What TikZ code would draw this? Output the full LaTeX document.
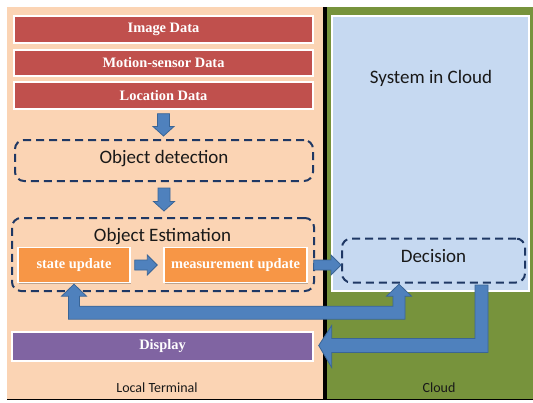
\documentclass[tikz,border=0pt]{standalone}
\usepackage{fontspec}
\setmainfont{Carlito}
\newfontfamily\boxfont{Liberation Serif}
\usetikzlibrary{calc,shadows}

\definecolor{cpeach}{HTML}{FBD4B4}
\definecolor{cgreen}{HTML}{77933C}
\definecolor{csky}{HTML}{C6D9F1}
\definecolor{cred}{HTML}{C0504D}
\definecolor{corange}{HTML}{F79646}
\definecolor{cpurple}{HTML}{8064A2}
\definecolor{cblue}{HTML}{4F81BD}
\definecolor{cblueline}{HTML}{3A6596}
\definecolor{cnavy}{HTML}{1F3864}

% straight block arrow pointing down, from anchor #1 to anchor #2 (#3, #4: gaps)
\newcommand\BlkDown[4]{%
  \path[blockarrow] let \p1=(#1), \p2=(#2) in
    (\x1-6pt,\y1-#3) -- (\x1+6pt,\y1-#3) -- (\x1+6pt,\y2+#4+9.5pt)
    -- (\x1+10.5pt,\y2+#4+9.5pt) -- (\x1,\y2+#4) -- (\x1-10.5pt,\y2+#4+9.5pt)
    -- (\x1-6pt,\y2+#4+9.5pt) -- cycle;}
% straight block arrow pointing right, from anchor #1 to anchor #2 (#3, #4: gaps)
\newcommand\BlkRight[4]{%
  \path[blockarrow] let \p1=(#1), \p2=(#2) in
    (\x1+#3,\y1+5pt) -- (\x2-#4-10pt,\y1+5pt) -- (\x2-#4-10pt,\y1+10pt)
    -- (\x2-#4,\y1) -- (\x2-#4-10pt,\y1-10pt) -- (\x2-#4-10pt,\y1-5pt)
    -- (\x1+#3,\y1-5pt) -- cycle;}

\begin{document}
\begin{tikzpicture}[x=1pt,y=-1pt,
  boxshadow/.style={drop shadow={shadow xshift=1pt,shadow yshift=-1.3pt,opacity=0.35,fill=black!70}},
  solidbox/.style={draw=white, line width=1.4pt, inner sep=0pt, text=white,
    font=\boxfont\bfseries\fontsize{14.4}{16}\selectfont, boxshadow},
  redbox/.style={solidbox, fill=cred, minimum width=299pt, minimum height=27pt},
  dashbox/.style={draw=cnavy, line width=2pt, dash pattern=on 8pt off 5pt,
    rounded corners=9pt, inner sep=0pt},
  bigtext/.style={font=\fontsize{19}{22}\selectfont, text=black!90, inner sep=0pt},
  smalltext/.style={font=\fontsize{14}{16}\selectfont, text=black!90, inner sep=0pt},
  blockarrow/.style={fill=cblue, draw=cblueline, line width=0.8pt, line join=miter}]

\useasboundingbox (0,0) rectangle (533,402);

% the two domains
\fill[cpeach] (7,7) rectangle (325,399);
\fill[cgreen] (325,7) rectangle (533,399);
\draw[black, line width=3.5pt] (325,7) -- (325,400);
\draw[black, line width=1.2pt] (7,399.4) -- (533,399.4);

% cloud side
\node[draw=white, line width=1.4pt, fill=csky, boxshadow, inner sep=0pt,
      minimum width=197pt, minimum height=275pt] (sys) at (430.5,153.5) {};
\node[bigtext] (systext) at (431,78) {System in Cloud};
\node[dashbox, minimum width=183pt, minimum height=44pt] (dec) at (433.5,260.5) {};
\node[bigtext] (dectext) at (433.5,256) {Decision};

% local terminal: input data
\node[redbox] (img) at (163.5,29.5) {Image Data};
\node[redbox, minimum height=26pt] (mot) at (163.5,63) {Motion-sensor Data};
\node[redbox] (loc) at (163.5,95.5) {Location Data};

% detection and estimation
\node[dashbox, minimum width=298pt, minimum height=41pt] (det) at (164,160.5) {};
\node[bigtext] (dettext) at (164,158.5) {Object detection};
\node[dashbox, minimum width=302pt, minimum height=73pt] (est) at (163,254.5) {};
\node[bigtext] (esttext) at (162.5,236.5) {Object Estimation};
\node[solidbox, fill=corange, minimum width=112pt, minimum height=35pt] (state) at (74,265) {state update};
\node[solidbox, fill=corange, minimum width=143pt, minimum height=35pt] (meas) at (235.5,265) {measurement update};

% output
\node[solidbox, fill=cpurple, minimum width=301pt, minimum height=29pt] (disp) at (162.5,346.5) {Display};

% domain captions
\node[smalltext] (loccap) at (157,388) {Local Terminal};
\node[smalltext] (cloudcap) at (439,388) {Cloud};

% block arrows
\BlkDown{loc.south}{det.north}{4pt}{3pt}
\BlkDown{det.south}{est.north}{6pt}{6pt}
\BlkRight{state.east}{meas.west}{4pt}{6pt}
\BlkRight{meas.east}{dec.west}{6pt}{0pt}

% feedback from the cloud to the state update and the decision
\coordinate (fbR) at ($(dec.south)+(-34.5,0)$);
\path[blockarrow] let \p1=(state.south), \p2=(fbR) in
  (\x1-5.5pt,\y1-36pt) -- (\x2+6pt,\y1-36pt) -- (\x2+6pt,\y1-13pt)
  -- (\x2+12.5pt,\y1-13pt) -- (\x2,\y1-1pt) -- (\x2-12.5pt,\y1-13pt)
  -- (\x2-6pt,\y1-13pt) -- (\x2-6pt,\y1-23pt) -- (\x1+5.5pt,\y1-23pt)
  -- (\x1+5.5pt,\y1-13pt) -- (\x1+12.5pt,\y1-13pt) -- (\x1,\y1-1pt)
  -- (\x1-12.5pt,\y1-13pt) -- (\x1-5.5pt,\y1-13pt) -- cycle;

% decision result back to the display
\coordinate (dsp) at ($(dec.south)+(48,0)$);
\path[blockarrow] let \p1=(dsp), \p2=(disp.east) in
  (\x1-6.5pt,\y1-1.5pt) -- (\x1+6.5pt,\y1-1.5pt) -- (\x1+6.5pt,\y2-6pt)
  -- (\x2+18pt,\y2-6pt) -- (\x2+18pt,\y2-21pt) -- (\x2+5pt,\y2+1pt)
  -- (\x2+18pt,\y2+21pt) -- (\x2+18pt,\y2+8pt) -- (\x1-6.5pt,\y2+8pt) -- cycle;

\end{tikzpicture}
\end{document}
